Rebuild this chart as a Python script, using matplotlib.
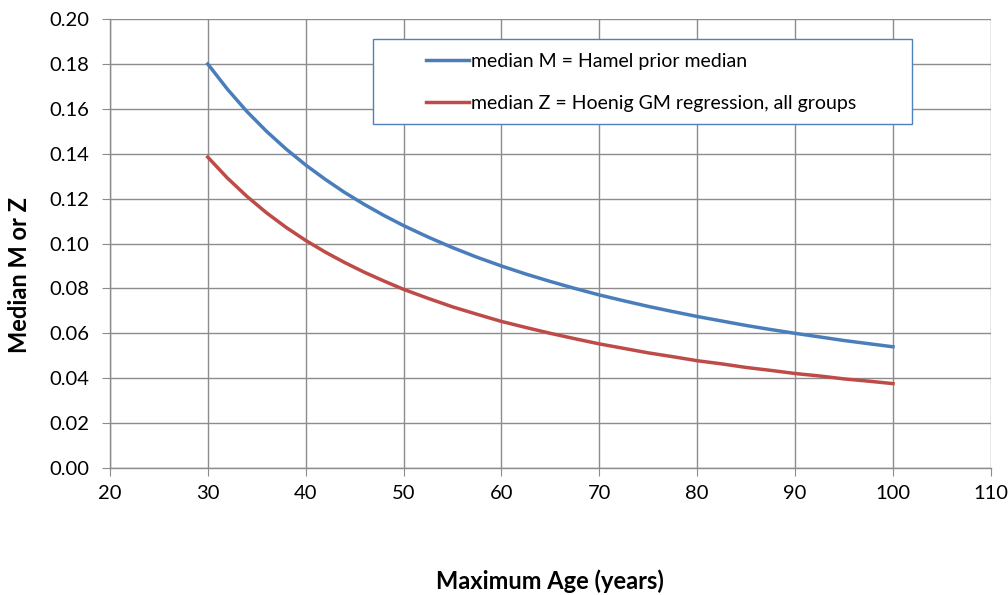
import numpy as np
import matplotlib.pyplot as plt
from matplotlib.patches import Rectangle

# ============ DATA ============
max_age = [30, 32, 34, 36, 38, 40, 42, 44, 46, 48, 50, 52.5, 55, 57.5, 60, 62.5, 65, 67.5,
           70, 72.5, 75, 77.5, 80, 82.5, 85, 87.5, 90, 92.5, 95, 97.5, 100]
median_m = [0.1800, 0.1688, 0.1588, 0.1500, 0.1421, 0.1350, 0.1286, 0.1227, 0.1174, 0.1125, 0.1080,
            0.1029, 0.0982, 0.0939, 0.0900, 0.0864, 0.0831, 0.0800, 0.0771, 0.0745, 0.0720,
            0.0697, 0.0675, 0.0655, 0.0635, 0.0617, 0.0600, 0.0584, 0.0568, 0.0554, 0.0540]
median_z = [0.1385, 0.1292, 0.1210, 0.1137, 0.1072, 0.1014, 0.0962, 0.0915, 0.0872, 0.0833, 0.0796,
            0.0756, 0.0718, 0.0685, 0.0653, 0.0626, 0.0600, 0.0576, 0.0553, 0.0533, 0.0513,
            0.0496, 0.0478, 0.0464, 0.0448, 0.0435, 0.0421, 0.0410, 0.0397, 0.0387, 0.0376]
label_m = 'median M = Hamel prior median'
label_z = 'median Z = Hoenig GM regression, all groups'
x_ticks = list(range(20, 111, 10))
y_ticks = [0.00, 0.02, 0.04, 0.06, 0.08, 0.10, 0.12, 0.14, 0.16, 0.18, 0.20]

# ============ PLOT ============
plt.rcParams['font.family'] = ['Lato', 'DejaVu Sans']

fig = plt.figure(figsize=(10.08, 5.95), dpi=100)
ax = fig.add_axes([0.109, 0.2134, 0.874, 0.7546])

ax.plot(max_age, median_m, color='#4A7EBB', linewidth=2.5, label=label_m)
ax.plot(max_age, median_z, color='#BE4B48', linewidth=2.5, label=label_z)

ax.set_xlim(20, 110)
ax.set_ylim(0, 0.20)
ax.set_xticks(x_ticks)
ax.set_yticks(y_ticks)
ax.set_yticklabels([f'{v:.2f}' for v in y_ticks])
ax.grid(True, color='#8C8C8C', linewidth=1.0)
ax.set_axisbelow(True)

for s in ['top', 'right']:
    ax.spines[s].set_visible(False)
for s in ['left', 'bottom']:
    ax.spines[s].set_color('#8C8C8C')
    ax.spines[s].set_linewidth(1.0)
ax.tick_params(axis='both', direction='out', length=6, color='#8C8C8C', labelsize=14.5)
ax.tick_params(axis='y', pad=9)
ax.tick_params(axis='x', pad=6)

ax.set_xlabel('Maximum Age (years)', fontsize=17, fontweight='bold')
ax.xaxis.set_label_coords(0.5, -0.225)
ax.set_ylabel('Median M or Z', fontsize=17, fontweight='bold')
ax.yaxis.set_label_coords(-0.09, 0.43)

# legend box
ax.add_patch(Rectangle((0.2985, 0.766), 0.612, 0.189, transform=ax.transAxes,
                       facecolor='white', edgecolor='#4F81BD', linewidth=1.0, zorder=4))
leg = ax.legend(loc='upper left', bbox_to_anchor=(0.359, 0.924), frameon=False,
                fontsize=14, handlelength=2.2, handletextpad=0.1, borderpad=0,
                labelspacing=1.26, borderaxespad=0)
leg.set_zorder(5)

fig.savefig('out.png', dpi=100)
